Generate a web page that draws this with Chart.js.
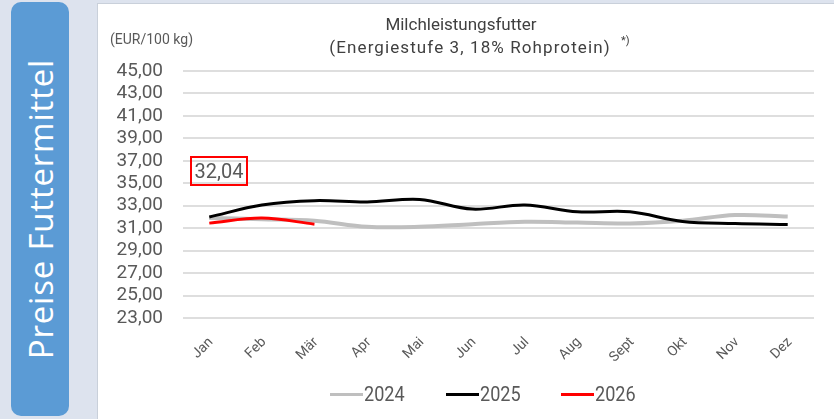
<!DOCTYPE html>
<html>
<head>
<meta charset="utf-8">
<script src="https://cdn.jsdelivr.net/npm/chart.js@4.4.1/dist/chart.umd.min.js"></script>
<style>
    html, body { margin: 0; padding: 0; }
    body { width: 834px; height: 419px; background: #dde3ee; position: relative; overflow: hidden; font-family: Roboto, sans-serif; }
    #side { position: absolute; left: 11px; top: 2px; width: 58px; height: 414px; background: #5b9bd5; border-radius: 10px; }
    #side span { position: absolute; left: 50%; top: 50%; transform: translate(-50%, -50%) rotate(-90deg); white-space: nowrap;
        color: #fff; font-family: "Open Sans", sans-serif; font-size: 33px; letter-spacing: 0.8px; }
    #panel { position: absolute; left: 97px; top: 3px; width: 737px; height: 416px; background: #fff; border-left: 1px solid #c9d0da; border-top: 1px solid #c9d0da; box-sizing: border-box; }
    #chart { position: absolute; left: 0; top: 0; }
    .t { position: absolute; color: #404040; font-size: 17px; white-space: nowrap; text-align: center; }
    #unit { position: absolute; left: 12px; top: 27px; color: #595959; font-size: 14px; }
    #annot { position: absolute; left: 92px; top: 152px; width: 54px; height: 26px; border: 2px solid #ff0000; color: #595959; font-size: 20px; line-height: 26px; text-align: center; }
    .leg { position: absolute; top: 377px; height: 26px; }
    .leg i { position: absolute; left: 0; top: 12px; width: 33px; height: 3px; }
    .leg span { position: absolute; left: 34px; top: 0; color: #595959; font-size: 21px; line-height: 26px; transform: scaleX(0.86); transform-origin: left center; }
    .mon { position: absolute; width: 0; height: 0; transform: rotate(-45deg); transform-origin: 0 0; }
    .mon span { position: absolute; right: 0; top: -9px; line-height: 18px; font-size: 14px; color: #595959; white-space: nowrap; }
</style>
</head>
<body>
<div id="side"><span>Preise Futtermittel</span></div>
<div id="panel">
    <canvas id="chart" width="737" height="416"></canvas>
    <div class="t" style="left:163px; width:400px; top:10px;">Milchleistungsfutter</div>
    <div class="t" style="left:172px; width:400px; top:33px; letter-spacing:1.1px;">(Energiestufe 3, 18% Rohprotein)</div>
    <div class="t" style="left:523px; top:30px; font-size:11px;">*)</div>
    <div id="unit">(EUR/100 kg)</div>
    <div id="annot"></div>
</div>
<script>
// Data
const months = ["Jan", "Feb", "Mär", "Apr", "Mai", "Jun", "Jul", "Aug", "Sept", "Okt", "Nov", "Dez"];
const price2024 = [31.9, 31.8, 31.66, 31.12, 31.12, 31.36, 31.57, 31.5, 31.42, 31.66, 32.17, 32.04];
const price2025 = [32.0, 33.06, 33.45, 33.33, 33.56, 32.7, 33.06, 32.46, 32.46, 31.6, 31.42, 31.33];
const price2026 = [31.45, 31.9, 31.36];
const annotValue = "32,04";

document.getElementById("annot").innerText = annotValue;

const fmt = v => v.toFixed(2).replace(".", ",");

const series = [
    { label: "2024", data: price2024, color: "#bfbfbf", width: 4, order: 2 },
    { label: "2025", data: price2025, color: "#000000", width: 3, order: 1 },
    { label: "2026", data: price2026, color: "#ff0000", width: 3, order: 0 }
];

const chart = new Chart(document.getElementById("chart"), {
    type: "line",
    data: {
        labels: months,
        datasets: series.map(s => ({
            label: s.label,
            data: s.data,
            borderColor: s.color,
            backgroundColor: s.color,
            borderWidth: s.width,
            pointRadius: 0,
            tension: 0.35,
            order: s.order
        }))
    },
    options: {
        responsive: false,
        animation: false,
        devicePixelRatio: 1,
        layout: { padding: { top: 67, right: 21, bottom: 42, left: 0 } },
        plugins: { legend: { display: false }, tooltip: { enabled: false } },
        scales: {
            y: {
                min: 23, max: 45,
                ticks: { stepSize: 2, autoSkip: false, padding: 20, color: "#595959", font: { family: "Roboto", size: 19 }, callback: v => fmt(v) },
                grid: { color: "#dedede", lineWidth: 2, drawTicks: false },
                border: { display: false },
                afterFit: s => { s.width = 85; }
            },
            x: {
                offset: true,
                ticks: { display: false },
                grid: { display: false },
                border: { display: false },
                afterFit: s => { s.height = 60; }
            }
        }
    }
});

const panel = document.getElementById("panel");

// Month labels, rotated 45°, placed from the x scale
const xs = chart.scales.x;
months.forEach((m, i) => {
    const d = document.createElement("div");
    d.className = "mon";
    d.style.left = (xs.getPixelForValue(i) + 1) + "px";
    d.style.top = (chart.chartArea.bottom + 21) + "px";
    d.innerHTML = `<span>${m}</span>`;
    panel.appendChild(d);
});

// Legend
series.forEach((s, i) => {
    const item = document.createElement("div");
    item.className = "leg";
    item.style.left = (232 + i * 115.5) + "px";
    item.innerHTML = `<i style="background:${s.color}"></i><span>${s.label}</span>`;
    panel.appendChild(item);
});
</script>
</body>
</html>
